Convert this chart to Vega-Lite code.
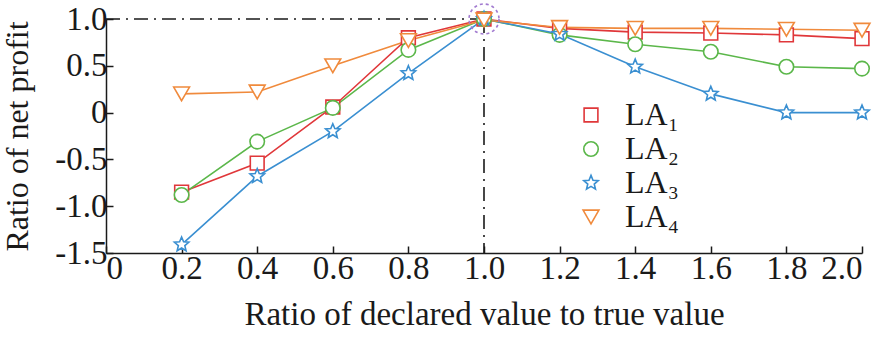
{
  "$schema": "https://vega.github.io/schema/vega-lite/v6.json",
  "autosize": "none",
  "width": 756,
  "height": 234,
  "padding": {"left": 106, "top": 19, "right": 22, "bottom": 84},
  "background": "white",
  "config": {
    "font": "Liberation Serif",
    "view": {"stroke": null},
    "axis": {"labelFont": "Liberation Serif", "titleFont": "Liberation Serif", "labelColor": "#1a1a1a", "titleColor": "#1a1a1a", "titleFontWeight": "normal", "domainColor": "#1a1a1a", "tickColor": "#1a1a1a", "grid": false, "domainWidth": 1.5, "tickWidth": 1.5}
  },
  "datasets": {
    "series": [
      {"x": 0.2, "y": -0.85, "s": "LA₁"}, {"x": 0.4, "y": -0.54, "s": "LA₁"}, {"x": 0.6, "y": 0.06, "s": "LA₁"}, {"x": 0.8, "y": 0.8, "s": "LA₁"}, {"x": 1.0, "y": 1.0, "s": "LA₁"},
      {"x": 1.2, "y": 0.9, "s": "LA₁"}, {"x": 1.4, "y": 0.86, "s": "LA₁"}, {"x": 1.6, "y": 0.85, "s": "LA₁"}, {"x": 1.8, "y": 0.83, "s": "LA₁"}, {"x": 2.0, "y": 0.79, "s": "LA₁"},
      {"x": 0.2, "y": -0.88, "s": "LA₂"}, {"x": 0.4, "y": -0.31, "s": "LA₂"}, {"x": 0.6, "y": 0.05, "s": "LA₂"}, {"x": 0.8, "y": 0.67, "s": "LA₂"}, {"x": 1.0, "y": 1.0, "s": "LA₂"},
      {"x": 1.2, "y": 0.83, "s": "LA₂"}, {"x": 1.4, "y": 0.73, "s": "LA₂"}, {"x": 1.6, "y": 0.65, "s": "LA₂"}, {"x": 1.8, "y": 0.49, "s": "LA₂"}, {"x": 2.0, "y": 0.47, "s": "LA₂"},
      {"x": 0.2, "y": -1.41, "s": "LA₃"}, {"x": 0.4, "y": -0.68, "s": "LA₃"}, {"x": 0.6, "y": -0.2, "s": "LA₃"}, {"x": 0.8, "y": 0.42, "s": "LA₃"}, {"x": 1.0, "y": 1.0, "s": "LA₃"},
      {"x": 1.2, "y": 0.84, "s": "LA₃"}, {"x": 1.4, "y": 0.49, "s": "LA₃"}, {"x": 1.6, "y": 0.2, "s": "LA₃"}, {"x": 1.8, "y": 0.0, "s": "LA₃"}, {"x": 2.0, "y": 0.0, "s": "LA₃"},
      {"x": 0.2, "y": 0.2, "s": "LA₄"}, {"x": 0.4, "y": 0.22, "s": "LA₄"}, {"x": 0.6, "y": 0.5, "s": "LA₄"}, {"x": 0.8, "y": 0.77, "s": "LA₄"}, {"x": 1.0, "y": 0.99, "s": "LA₄"},
      {"x": 1.2, "y": 0.91, "s": "LA₄"}, {"x": 1.4, "y": 0.9, "s": "LA₄"}, {"x": 1.6, "y": 0.9, "s": "LA₄"}, {"x": 1.8, "y": 0.89, "s": "LA₄"}, {"x": 2.0, "y": 0.88, "s": "LA₄"}
    ],
    "guides": [
      {"x": 0, "x2": 1, "y": 1, "y2": 1},
      {"x": 1, "x2": 1, "y": 1, "y2": -1.5}
    ],
    "focus": [{"x": 1, "y": 1}]
  },
  "encoding": {
    "x": {"field": "x", "type": "quantitative", "scale": {"domain": [0, 2], "nice": false, "zero": false},
      "axis": {"values": [0, 0.2, 0.4, 0.6, 0.8, 1.0, 1.2, 1.4, 1.6, 1.8, 2.0], "labelExpr": "datum.value == 0 ? '0' : format(datum.value, '.1f')", "labelFontSize": 33, "tickSize": -7, "labelPadding": 6, "title": "Ratio of declared value to true value", "titleFontSize": 33, "titlePadding": 13}},
    "y": {"field": "y", "type": "quantitative", "scale": {"domain": [-1.5, 1], "nice": false, "zero": false},
      "axis": {"values": [-1.5, -1, -0.5, 0, 0.5, 1], "labelExpr": "datum.value == 0 ? '0' : replace(format(datum.value, '.1f'), '−', '-')", "labelFontSize": 33, "tickSize": -7, "labelPadding": 6, "title": "Ratio of net profit", "titleFontSize": 32, "titlePadding": 20}}
  },
  "layer": [
    {
      "data": {"name": "guides"},
      "mark": {"type": "rule", "color": "#1a1a1a", "strokeWidth": 1.6, "strokeDash": [14, 6, 2, 6]},
      "encoding": {"x2": {"field": "x2"}, "y2": {"field": "y2"}}
    },
    {
      "data": {"name": "series"},
      "mark": {"type": "line", "strokeWidth": 1.6},
      "encoding": {
        "color": {"field": "s", "type": "nominal", "scale": {"domain": ["LA₁", "LA₂", "LA₃", "LA₄"], "range": ["#e0373a", "#5bb74a", "#3a8fd1", "#f08a3c"]},
          "legend": {"title": null, "orient": "none", "legendX": 469, "legendY": 80, "labelFontSize": 32, "labelFont": "Liberation Serif", "labelColor": "#1a1a1a", "symbolSize": 200, "symbolStrokeWidth": 1.6, "symbolFillColor": "white", "symbolOffset": 0, "labelOffset": 18, "rowPadding": 2}},
        "order": {"field": "x", "type": "quantitative"}
      }
    },
    {
      "data": {"name": "series"},
      "mark": {"type": "point", "filled": false, "fill": "white", "fillOpacity": 1, "strokeWidth": 1.6, "opacity": 1},
      "encoding": {
        "color": {"field": "s", "type": "nominal",
          "legend": {"title": null, "orient": "none", "legendX": 469, "legendY": 80, "labelFontSize": 32, "labelFont": "Liberation Serif", "labelColor": "#1a1a1a", "symbolSize": 200, "symbolStrokeWidth": 1.6, "symbolFillColor": "white", "symbolOffset": 0, "labelOffset": 18, "rowPadding": 2}},
        "shape": {"field": "s", "type": "nominal", "scale": {"domain": ["LA₁", "LA₂", "LA₃", "LA₄"], "range": ["square", "circle", "M0,-1L0.265,-0.364L0.951,-0.309L0.428,0.139L0.588,0.809L0,0.45L-0.588,0.809L-0.428,0.139L-0.951,-0.309L-0.265,-0.364Z", "triangle-down"]}},
        "size": {"field": "s", "type": "nominal", "scale": {"domain": ["LA₁", "LA₂", "LA₃", "LA₄"], "range": [190, 250, 400, 300]}}
      }
    },
    {
      "data": {"name": "focus"},
      "mark": {"type": "point", "shape": "circle", "size": 900, "color": "#a27bd0", "strokeWidth": 1.6, "strokeDash": [3, 3], "filled": false, "opacity": 1}
    }
  ]
}
